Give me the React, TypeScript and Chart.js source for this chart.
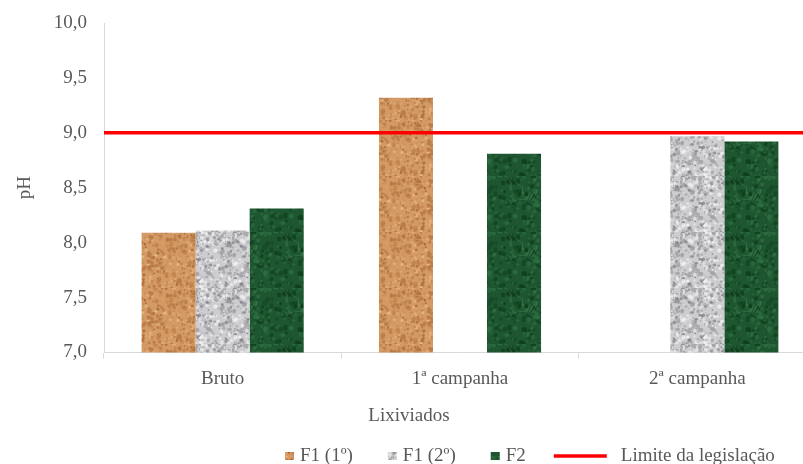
import React, { useEffect, useRef } from 'react';
import { Chart, registerables } from 'chart.js';

Chart.register(...registerables);

const categories = ['Bruto', '1ª campanha', '2ª campanha'];
const f1First: (number | null)[] = [8.09, 9.32, null];
const f1Second: (number | null)[] = [8.11, null, 8.97];
const f2Values: (number | null)[] = [8.31, 8.81, 8.92];
const limitValue = 9.0;
const seriesLabels = ['F1 (1º)', 'F1 (2º)', 'F2', 'Limite da legislação'];
const yMin = 7;
const yMax = 10;
const yStep = 0.5;
const xTitle = 'Lixiviados';
const yTitle = 'pH';

const FONT = '"Liberation Serif", "Times New Roman", serif';
const TEXT = '#595959';

function rng(seed: number) {
  let s = seed;
  return () => {
    s |= 0;
    s = (s + 0x6d2b79f5) | 0;
    let t = Math.imul(s ^ (s >>> 15), 1 | s);
    t = (t + Math.imul(t ^ (t >>> 7), 61 | t)) ^ t;
    return ((t ^ (t >>> 14)) >>> 0) / 4294967296;
  };
}

type Spot = [string, number, number];

function makeTexture(
  ctx: CanvasRenderingContext2D,
  base: string,
  spots: Spot[],
  seed: number,
  streak?: string
) {
  const size = 56;
  const c = document.createElement('canvas');
  c.width = size;
  c.height = size;
  const g = c.getContext('2d')!;
  g.fillStyle = base;
  g.fillRect(0, 0, size, size);
  const r = rng(seed);
  for (const [color, count, maxR] of spots) {
    g.fillStyle = color;
    for (let i = 0; i < count; i++) {
      const x = r() * size;
      const y = r() * size;
      const rad = 0.4 + r() * maxR;
      g.globalAlpha = 0.35 + 0.5 * r();
      g.beginPath();
      g.arc(x, y, rad, 0, Math.PI * 2);
      g.fill();
    }
  }
  if (streak) {
    g.strokeStyle = streak;
    g.lineWidth = 0.8;
    for (let i = 0; i < 7; i++) {
      g.globalAlpha = 0.35 + 0.4 * r();
      g.beginPath();
      const x0 = r() * size;
      const y0 = r() * size;
      g.moveTo(x0, y0);
      g.bezierCurveTo(
        x0 + (r() - 0.5) * 30,
        y0 + (r() - 0.5) * 30,
        x0 + (r() - 0.5) * 40,
        y0 + (r() - 0.5) * 40,
        x0 + (r() - 0.5) * 50,
        y0 + (r() - 0.5) * 50
      );
      g.stroke();
    }
  }
  g.globalAlpha = 1;
  return ctx.createPattern(c, 'repeat')!;
}

export default function App() {
  const ref = useRef<HTMLCanvasElement | null>(null);

  useEffect(() => {
    const canvas = ref.current!;
    const ctx = canvas.getContext('2d')!;

    const tan = makeTexture(
      ctx,
      '#d39a64',
      [
        ['#a9683a', 160, 1.6],
        ['#e8bb8c', 120, 1.4],
        ['#b97a45', 80, 2.2],
      ],
      11
    );
    const gray = makeTexture(
      ctx,
      '#cdcdd0',
      [
        ['#808086', 200, 1.6],
        ['#f2f2f2', 160, 1.8],
        ['#a0a0a5', 80, 2.2],
      ],
      23
    );
    const green = makeTexture(
      ctx,
      '#1d5630',
      [
        ['#0e3a1b', 90, 2.5],
        ['#2f6f42', 90, 2.0],
      ],
      37,
      '#5c9a6c'
    );
    const fills = [tan, gray, green];

    const limitPlugin = {
      id: 'limitLine',
      afterDatasetsDraw(chart: any) {
        const c = chart.ctx as CanvasRenderingContext2D;
        const y = chart.scales.y.getPixelForValue(limitValue);
        const { left, right } = chart.chartArea;
        c.save();
        c.strokeStyle = '#ff0000';
        c.lineWidth = 3.5;
        c.beginPath();
        c.moveTo(left, y);
        c.lineTo(right, y);
        c.stroke();
        c.restore();
      },
    };

    const legendPlugin = {
      id: 'customLegend',
      afterDraw(chart: any) {
        const c = chart.ctx as CanvasRenderingContext2D;
        c.save();
        c.font = `19px ${FONT}`;
        c.fillStyle = TEXT;
        c.textBaseline = 'middle';
        c.textAlign = 'center';
        c.fillText(xTitle, 401, 408);
        c.textAlign = 'left';
        const y = 448;
        let x = 277;
        for (let i = 0; i < 3; i++) {
          c.fillStyle = fills[i];
          c.fillRect(x, y - 4, 9, 8);
          x += 15;
          c.fillStyle = TEXT;
          c.fillText(seriesLabels[i], x, y);
          x += c.measureText(seriesLabels[i]).width + (i < 2 ? 35 : 28);
        }
        c.strokeStyle = '#ff0000';
        c.lineWidth = 3.5;
        c.beginPath();
        c.moveTo(x, y);
        c.lineTo(x + 53, y);
        c.stroke();
        x += 67;
        c.fillStyle = TEXT;
        c.fillText(seriesLabels[3], x, y);
        c.restore();
      },
    };

    const chart = new Chart(canvas, {
      type: 'bar',
      data: {
        labels: categories,
        datasets: [
          {
            label: seriesLabels[0],
            data: f1First,
            backgroundColor: tan,
            borderWidth: 0,
          },
          {
            label: seriesLabels[1],
            data: f1Second,
            backgroundColor: gray,
            borderWidth: 0,
          },
          {
            label: seriesLabels[2],
            data: f2Values,
            backgroundColor: green,
            borderWidth: 0,
          },
        ],
      },
      options: {
        responsive: false,
        animation: false,
        devicePixelRatio: 1,
        layout: { padding: { left: 0, top: 15, right: 22, bottom: 0 } },
        datasets: {
          bar: { categoryPercentage: 0.683, barPercentage: 1 },
        },
        plugins: {
          legend: { display: false },
          tooltip: { enabled: false },
        },
        scales: {
          x: {
            type: 'category',
            offset: true,
            grid: {
              display: true,
              drawOnChartArea: false,
              drawTicks: true,
              tickLength: 6,
              color: '#d9d9d9',
              offset: true,
            },
            border: { display: true, color: '#d9d9d9', width: 1 },
            ticks: {
              color: TEXT,
              font: { family: FONT, size: 19 },
              padding: 9,
              maxRotation: 0,
            },
            afterFit(scale: any) {
              scale.height = 125.5;
              scale.paddingLeft = 0;
              scale.paddingRight = 0;
            },
          },
          y: {
            min: yMin,
            max: yMax,
            grid: { display: false, drawTicks: false },
            border: { display: true, color: '#d9d9d9', width: 1 },
            ticks: {
              stepSize: yStep,
              color: TEXT,
              padding: 17,
              font: { family: FONT, size: 19 },
              callback: (v: any) => Number(v).toFixed(1).replace('.', ','),
            },
            title: {
              display: true,
              text: yTitle,
              color: TEXT,
              font: { family: FONT, size: 19, weight: 'normal' },
              padding: { top: 6, bottom: 0 },
            },
            afterFit(scale: any) {
              scale.width = 96;
              scale.paddingTop = 0;
              scale.paddingBottom = 0;
            },
          },
        },
      } as any,
      plugins: [limitPlugin, legendPlugin],
    });

    return () => chart.destroy();
  }, []);

  return (
    <div
      style={{
        position: 'fixed',
        left: 8,
        top: 8,
        width: 830,
        height: 470,
        background: '#ffffff',
      }}
    >
      <canvas ref={ref} width={830} height={470} style={{ width: 830, height: 470, display: 'block' }} />
    </div>
  );
}
